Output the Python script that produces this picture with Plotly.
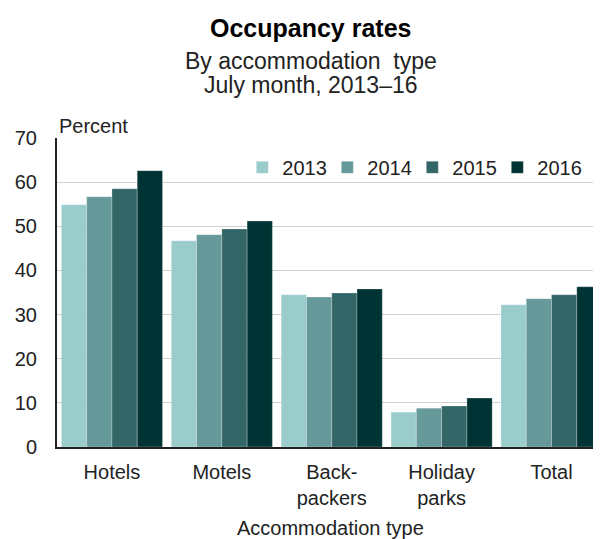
import plotly.graph_objects as go

categories = ["Hotels", "Motels", "Back-<br>packers", "Holiday<br>parks", "Total"]
years = ["2013", "2014", "2015", "2016"]
v2013 = [54.9, 46.7, 34.5, 7.9, 32.2]
v2014 = [56.7, 48.1, 34.0, 8.8, 33.6]
v2015 = [58.5, 49.4, 34.9, 9.3, 34.5]
v2016 = [62.6, 51.2, 35.8, 11.1, 36.3]
colors = ["#9ACCCC", "#669999", "#336666", "#003333"]
y_ticks = [0, 10, 20, 30, 40, 50, 60, 70]

fig = go.Figure()
for name, vals, c in zip(years, [v2013, v2014, v2015, v2016], colors):
    fig.add_trace(go.Bar(x=categories, y=vals, name=name, marker_color=c,
                         marker_line=dict(color="rgba(255,255,255,0.5)", width=0.5)))

font = "Liberation Sans, Arial, sans-serif"
# page body has an 8px margin, so the figure is offset by 8px
W, H = 593, 531
fig.update_layout(
    width=W, height=H,
    margin=dict(l=49, r=3, t=130, b=92),
    paper_bgcolor="white", plot_bgcolor="white",
    barmode="group", bargap=0.08, bargroupgap=0,
    font=dict(family=font, size=20, color="#222"),
    showlegend=True,
    legend=dict(orientation="h", x=0.971, xanchor="right", y=0.905, yanchor="middle",
                font=dict(size=20), itemwidth=30, traceorder="normal",
                entrywidth=40, entrywidthmode="pixels",
                bgcolor="rgba(255,255,255,0)"),
)
fig.add_annotation(text="<b>Occupancy rates</b>", xref="paper", yref="paper",
                   x=0.47, y=1.0, yshift=110, showarrow=False,
                   font=dict(size=25, color="#000"), yanchor="middle")
fig.add_annotation(text="By accommodation  type", xref="paper", yref="paper",
                   x=0.47, y=1.0, yshift=77, showarrow=False,
                   font=dict(size=23, color="#222"), yanchor="middle")
fig.add_annotation(text="July month, 2013–16", xref="paper", yref="paper",
                   x=0.47, y=1.0, yshift=53, showarrow=False,
                   font=dict(size=23, color="#222"), yanchor="middle")
fig.add_annotation(text="Percent", xref="paper", yref="paper",
                   x=0, y=1.0, yshift=12, xanchor="left", showarrow=False,
                   font=dict(size=20, color="#222"), yanchor="middle")
fig.add_annotation(text="Accommodation type", xref="paper", yref="paper",
                   x=0.505, y=0, yshift=-81, showarrow=False,
                   font=dict(size=20, color="#222"), yanchor="middle")

fig.update_yaxes(range=[0, 70], tickvals=y_ticks, showgrid=True, gridcolor="#d0d0d0",
                 gridwidth=1, showline=True, linecolor="#222", linewidth=2,
                 ticks="", ticklabelstandoff=14, tickfont=dict(size=20), zeroline=False)
fig.update_xaxes(range=[-0.5, 4.423], showline=True, linecolor="#222", linewidth=2, ticks="",
                 ticklabelstandoff=6, tickfont=dict(size=20), showgrid=False)

fig.write_html("out.html")
